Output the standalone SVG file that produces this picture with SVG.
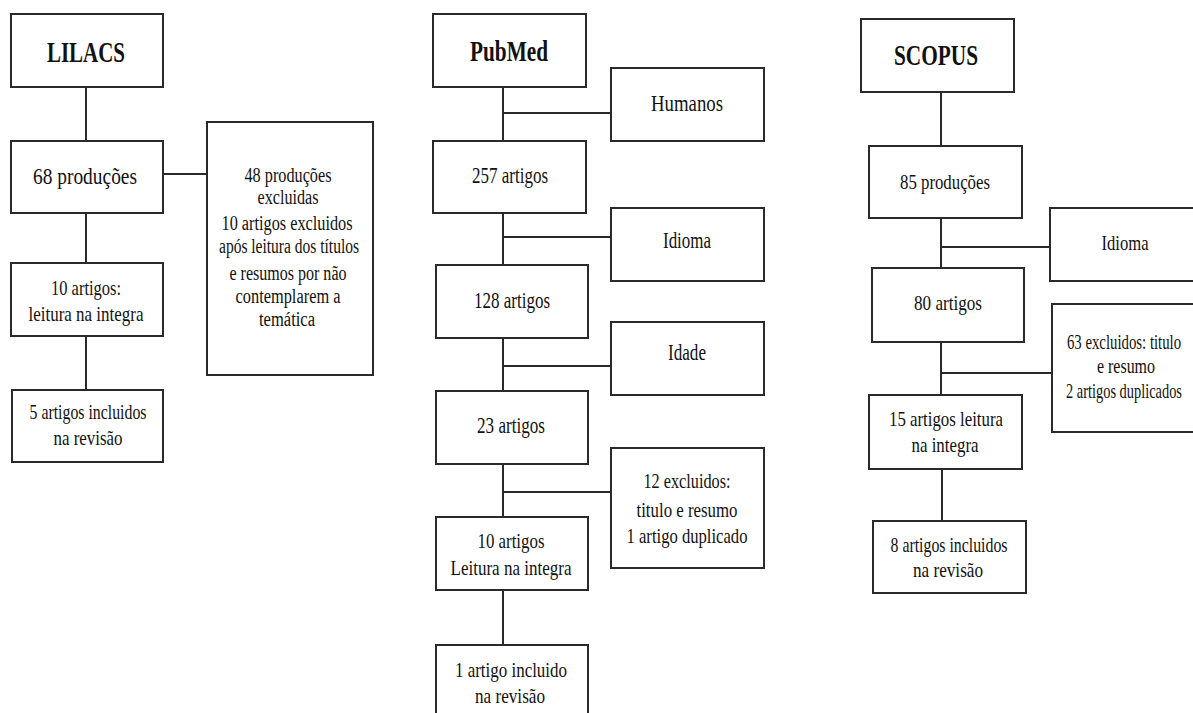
<svg xmlns="http://www.w3.org/2000/svg" width="1193" height="713" viewBox="0 0 1193 713">
<style>
rect.box{fill:#fff;stroke:#2a2a2a;stroke-width:2}
.conn line{stroke:#2a2a2a;stroke-width:2}
text{font-family:"Liberation Serif","Times New Roman",serif;fill:#111;text-anchor:middle}
.t{font-weight:bold;font-size:29px}
.b{font-size:24px}
.m{font-size:22px}
.s{font-size:20px}
</style>
<rect x="0" y="0" width="1193" height="713" fill="#fff"/>
<g class="conn">
<line x1="86" y1="87" x2="86" y2="141"/>
<line x1="163" y1="174" x2="207" y2="174"/>
<line x1="86" y1="213" x2="86" y2="263"/>
<line x1="86" y1="336" x2="86" y2="390"/>
<line x1="503" y1="87" x2="503" y2="141"/>
<line x1="503" y1="113" x2="611" y2="113"/>
<line x1="503" y1="213" x2="503" y2="265"/>
<line x1="503" y1="237" x2="611" y2="237"/>
<line x1="503" y1="338" x2="503" y2="391"/>
<line x1="503" y1="366" x2="611" y2="366"/>
<line x1="503" y1="464" x2="503" y2="517"/>
<line x1="503" y1="492" x2="611" y2="492"/>
<line x1="503" y1="590" x2="503" y2="645"/>
<line x1="941" y1="92" x2="941" y2="146"/>
<line x1="941" y1="218" x2="941" y2="268"/>
<line x1="941" y1="247" x2="1050" y2="247"/>
<line x1="941" y1="342" x2="941" y2="395"/>
<line x1="941" y1="373" x2="1052" y2="373"/>
<line x1="942" y1="469" x2="942" y2="521"/>
</g>
<g id="lilacs"><rect class="box" x="11" y="14" width="152" height="73"/><text class="t" x="86" y="62" textLength="78" lengthAdjust="spacingAndGlyphs">LILACS</text></g>
<g id="l68"><rect class="box" x="11" y="141" width="152" height="72"/><text class="b" x="85" y="184" textLength="104" lengthAdjust="spacingAndGlyphs">68 produções</text></g>
<g id="lexc"><rect class="box" x="207" y="122" width="166" height="253"/>
<text class="s" x="288" y="182" textLength="87" lengthAdjust="spacingAndGlyphs">48 produções</text>
<text class="s" x="288" y="204" textLength="61" lengthAdjust="spacingAndGlyphs">excluidas</text>
<text class="s" x="287" y="230" textLength="131" lengthAdjust="spacingAndGlyphs">10 artigos excluidos</text>
<text class="s" x="289" y="253" textLength="140" lengthAdjust="spacingAndGlyphs">após leitura dos títulos</text>
<text class="s" x="288" y="280" textLength="117" lengthAdjust="spacingAndGlyphs">e resumos por não</text>
<text class="s" x="288" y="303" textLength="105" lengthAdjust="spacingAndGlyphs">contemplarem a</text>
<text class="s" x="287" y="326" textLength="56" lengthAdjust="spacingAndGlyphs">temática</text></g>
<g id="l10"><rect class="box" x="11" y="263" width="152" height="73"/><text class="m" x="86" y="295" textLength="70" lengthAdjust="spacingAndGlyphs">10 artigos:</text><text class="m" x="86" y="321" textLength="115" lengthAdjust="spacingAndGlyphs">leitura na integra</text></g>
<g id="l5"><rect class="box" x="12" y="390" width="151" height="72"/><text class="m" x="88" y="419" textLength="117" lengthAdjust="spacingAndGlyphs">5 artigos incluidos</text><text class="m" x="88" y="445" textLength="69" lengthAdjust="spacingAndGlyphs">na revisão</text></g>
<g id="pubmed"><rect class="box" x="433" y="14" width="153" height="73"/><text class="t" x="509" y="61" textLength="78" lengthAdjust="spacingAndGlyphs">PubMed</text></g>
<g id="humanos"><rect class="box" x="611" y="68" width="153" height="73"/><text class="b" x="687" y="111" textLength="72" lengthAdjust="spacingAndGlyphs">Humanos</text></g>
<g id="p257"><rect class="box" x="433" y="141" width="153" height="72"/><text class="b" x="510" y="183" textLength="76" lengthAdjust="spacingAndGlyphs">257 artigos</text></g>
<g id="pidioma"><rect class="box" x="611" y="208" width="153" height="73"/><text class="b" x="687" y="248" textLength="48" lengthAdjust="spacingAndGlyphs">Idioma</text></g>
<g id="p128"><rect class="box" x="436" y="265" width="152" height="73"/><text class="b" x="512" y="308" textLength="76" lengthAdjust="spacingAndGlyphs">128 artigos</text></g>
<g id="pidade"><rect class="box" x="611" y="322" width="153" height="73"/><text class="b" x="687" y="360" textLength="38" lengthAdjust="spacingAndGlyphs">Idade</text></g>
<g id="p23"><rect class="box" x="436" y="391" width="152" height="73"/><text class="b" x="511" y="433" textLength="68" lengthAdjust="spacingAndGlyphs">23 artigos</text></g>
<g id="pexc"><rect class="box" x="611" y="448" width="153" height="120"/><text class="m" x="687" y="488" textLength="87" lengthAdjust="spacingAndGlyphs">12 excluidos:</text><text class="m" x="687" y="517" textLength="101" lengthAdjust="spacingAndGlyphs">titulo e resumo</text><text class="m" x="687" y="543" textLength="121" lengthAdjust="spacingAndGlyphs">1 artigo duplicado</text></g>
<g id="p10"><rect class="box" x="436" y="517" width="152" height="73"/><text class="m" x="511" y="548" textLength="67" lengthAdjust="spacingAndGlyphs">10 artigos</text><text class="m" x="511" y="575" textLength="121" lengthAdjust="spacingAndGlyphs">Leitura na integra</text></g>
<g id="p1"><rect class="box" x="436" y="645" width="152" height="72"/><text class="m" x="511" y="677" textLength="112" lengthAdjust="spacingAndGlyphs">1 artigo incluido</text><text class="m" x="510" y="703" textLength="70" lengthAdjust="spacingAndGlyphs">na revisão</text></g>
<g id="scopus"><rect class="box" x="861" y="19" width="153" height="73"/><text class="t" x="936" y="65" textLength="84" lengthAdjust="spacingAndGlyphs">SCOPUS</text></g>
<g id="s85"><rect class="box" x="869" y="146" width="153" height="72"/><text class="m" x="945" y="189" textLength="90" lengthAdjust="spacingAndGlyphs">85 produções</text></g>
<g id="sidioma"><rect class="box" x="1050" y="208" width="145" height="73"/><text class="m" x="1125" y="250" textLength="47" lengthAdjust="spacingAndGlyphs">Idioma</text></g>
<g id="s80"><rect class="box" x="872" y="268" width="152" height="74"/><text class="m" x="948" y="310" textLength="68" lengthAdjust="spacingAndGlyphs">80 artigos</text></g>
<g id="sexc"><rect class="box" x="1052" y="304" width="143" height="128"/><text class="s" transform="translate(1124 349) scale(0.74 1)" x="0" y="0">63 excluidos: titulo</text><text class="s" x="1126" y="373" textLength="58" lengthAdjust="spacingAndGlyphs">e resumo</text><text class="s" transform="translate(1124 398) scale(0.72 1)" x="0" y="0">2 artigos duplicados</text></g>
<g id="s15"><rect class="box" x="869" y="395" width="153" height="74"/><text class="m" x="946" y="426" textLength="114" lengthAdjust="spacingAndGlyphs">15 artigos leitura</text><text class="m" x="945" y="452" textLength="67" lengthAdjust="spacingAndGlyphs">na integra</text></g>
<g id="s8"><rect class="box" x="873" y="521" width="153" height="72"/><text class="m" x="949" y="552" textLength="117" lengthAdjust="spacingAndGlyphs">8 artigos incluidos</text><text class="m" x="948" y="577" textLength="70" lengthAdjust="spacingAndGlyphs">na revisão</text></g>
</svg>
